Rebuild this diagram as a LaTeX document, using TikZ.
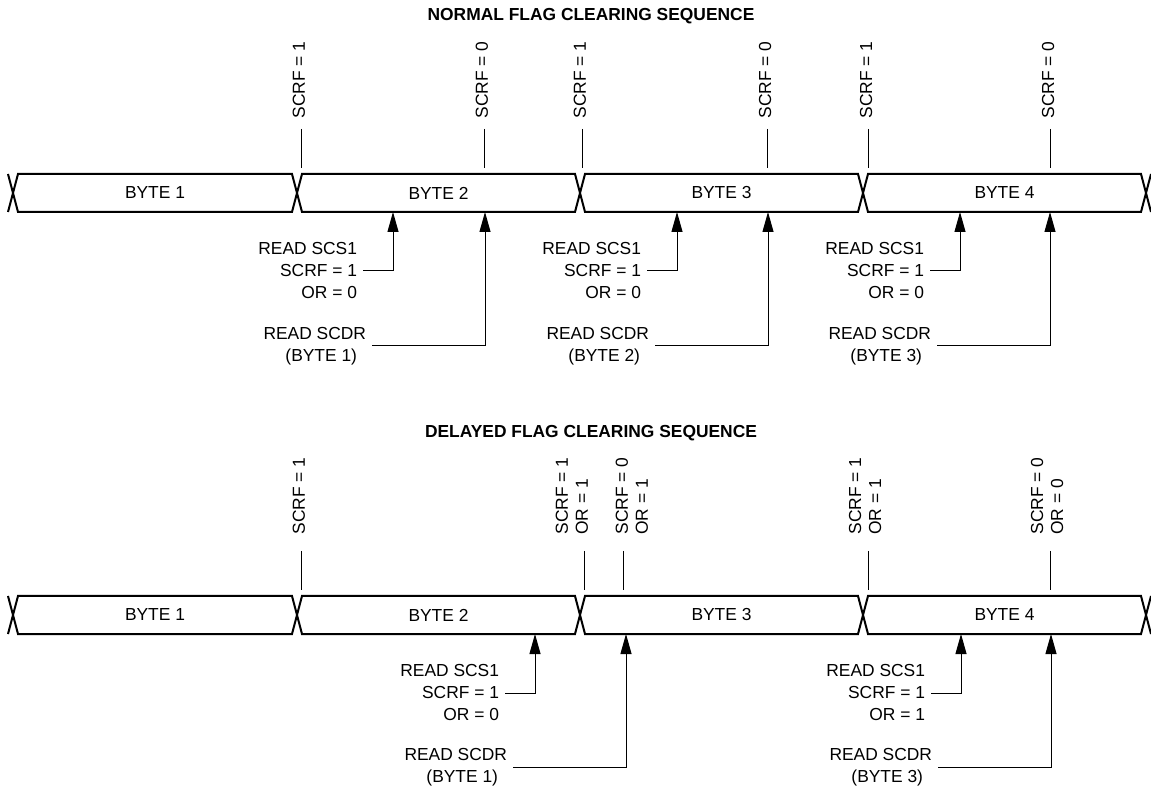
\documentclass[tikz,border=0pt]{standalone}
\usepackage{fontspec}
\setmainfont{Liberation Sans}
\usepackage{tikz}
\usetikzlibrary{
  arrows.meta,
  positioning
}

\tikzset{
  bus/.style={line width=1pt},
  tick/.style={line width=0.5pt},
  lbl/.style={font=\fontsize{8.7}{11}\selectfont, inner sep=0pt},
  vlbl/.style={font=\fontsize{8.7}{10}\selectfont, inner sep=0pt,
    rotate=90, anchor=west, align=left},
  rdlbl/.style={font=\fontsize{8.7}{11}\selectfont, inner sep=0pt,
    outer sep=3pt, anchor=east, align=right},
  rdarr/.style={line width=0.5pt, -{Triangle[length=10pt,width=5.5pt]}},
  ttl/.style={font=\bfseries\fontsize{8.7}{11}\selectfont, inner sep=0pt}
}

\begin{document}
\begin{tikzpicture}[x=0.5pt, y=-0.5pt]
  \useasboundingbox (0,0) rectangle (1151,790);
  % titles
  \node[ttl] (t1) at (591,16) {NORMAL FLAG CLEARING SEQUENCE};
  \node[ttl] (t2) at (591,433) {DELAYED FLAG CLEARING SEQUENCE};

  % byte buses (row 1 normal, row 2 delayed)
  \foreach \r/\yt in {1/174, 2/596}{
    \draw[bus] (8,\yt) -- (13,\yt+19) -- (8,\yt+38);
    \draw[bus] (1151,\yt) -- (1146,\yt+19) -- (1151,\yt+38);
    \foreach \a/\b/\n in {13/297/1, 297/580/2, 580/863/3, 863/1146/4}{
      \draw[bus] (\a+5,\yt) -- (\b-5,\yt) -- (\b,\yt+19) -- (\b-5,\yt+38)
        -- (\a+5,\yt+38) -- (\a,\yt+19) -- cycle;
      \node[lbl] (b\r\n) at ({(\a+\b)/2},\yt+19) {BYTE \n};
    }
  }

  % flag ticks, normal sequence
  \foreach \x in {301,484,582,767,868,1050}
    \draw[tick] (\x,129) -- (\x,168);
  \foreach \x/\v [count=\i] in {299/1,482/0,580/1,765/0,866/1,1048/0}
    \node[vlbl] (f1\i) at (\x,119) {SCRF = \v};

  % flag ticks, delayed sequence
  \foreach \x in {301,584,623,868,1050}
    \draw[tick] (\x,551) -- (\x,590);
  \node[vlbl] (f21) at (299,535) {SCRF = 1};
  \foreach \x/\v/\o [count=\i from 2] in {572/1/1, 632/0/1, 865/1/1, 1047/0/0}
    \node[vlbl] (f2\i) at (\x,535) {SCRF = \v\\OR = \o};

  % reads, normal sequence
  \foreach \xs/\xd/\n [count=\i from 2] in {393/485/1, 677/768/2, 960/1050/3}{
    \coordinate (s1\i) at (\xs,212);
    \coordinate (d1\i) at (\xd,212);
    \node[rdlbl] (rs1\i) at (\xs-30,271) {READ SCS1\\SCRF = 1\\OR = 0};
    \node[rdlbl] (rd1\i) at (\xd-113,346) {READ SCDR\\(BYTE \n)\kern4.5pt};
    \draw[rdarr] (rs1\i.east) -| (s1\i);
    \draw[rdarr] (rd1\i.east) -| (d1\i);
  }

  % reads, delayed sequence
  \foreach \xs/\xd/\o/\n [count=\i] in {535/626/0/1, 961/1051/1/3}{
    \coordinate (s2\i) at (\xs,634);
    \coordinate (d2\i) at (\xd,634);
    \node[rdlbl] (rs2\i) at (\xs-30,693) {READ SCS1\\SCRF = 1\\OR = \o};
    \node[rdlbl] (rd2\i) at (\xd-113,767) {READ SCDR\\(BYTE \n)\kern4.5pt};
    \draw[rdarr] (rs2\i.east) -| (s2\i);
    \draw[rdarr] (rd2\i.east) -| (d2\i);
  }
\end{tikzpicture}
\end{document}
